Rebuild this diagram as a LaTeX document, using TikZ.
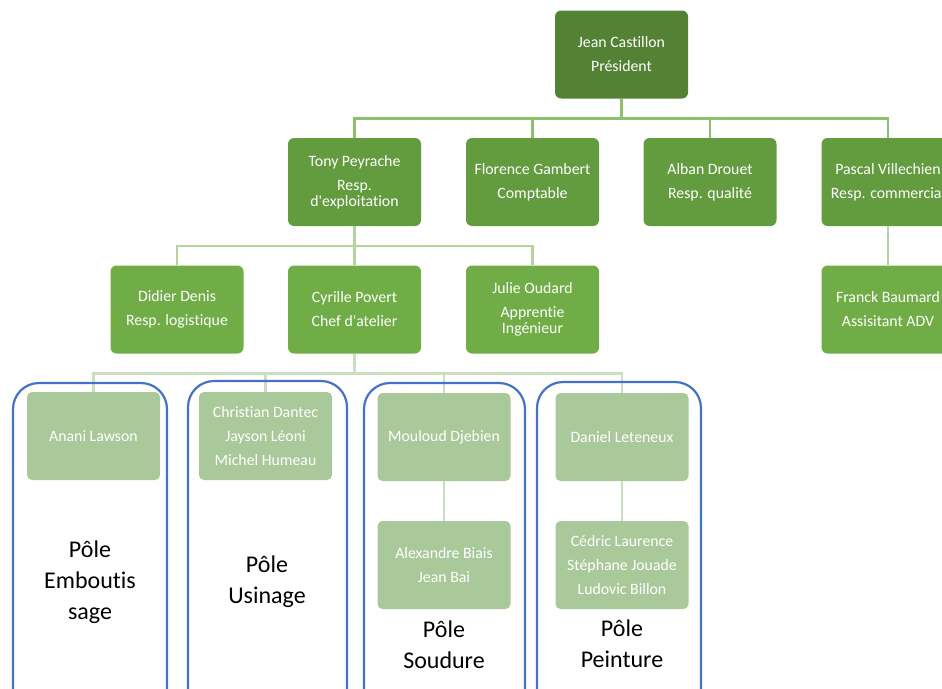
\documentclass[tikz,border=0pt]{standalone}
\usepackage{fontspec}
\setmainfont{Carlito}[Ligatures={NoCommon,TeXOff}]
\definecolor{gTop}{HTML}{548235}
\definecolor{gTwo}{HTML}{629C3F}
\definecolor{gThree}{HTML}{70AD47}
\definecolor{gFour}{HTML}{A9C99A}
\definecolor{cOne}{HTML}{8DC06C}
\definecolor{cTwo}{HTML}{B3D3A0}
\definecolor{cThree}{HTML}{CADFBF}
\definecolor{poleBlue}{HTML}{4472C4}
\tikzset{
  box/.style={rectangle, rounded corners=6pt, minimum width=133pt, minimum height=88pt,
    inner sep=0pt, text=white, align=center, font=\fontsize{15.8}{16}\selectfont},
  lvlA/.style={box, fill=gTop},
  lvlB/.style={box, fill=gTwo},
  lvlC/.style={box, fill=gThree},
  lvlD/.style={box, fill=gFour, rounded corners=5pt},
  linkA/.style={draw=cOne, line width=2.5pt},
  linkB/.style={draw=cTwo, line width=2.5pt},
  linkC/.style={draw=cThree, line width=2.5pt},
  pole/.style={draw=poleBlue, line width=2.2pt, rounded corners=26pt},
  poletext/.style={align=center, text=black, font=\fontsize{24}{31}\selectfont}
}
\begin{document}
\begin{tikzpicture}[x=1pt,y=-1pt]
\useasboundingbox (0,0) rectangle (942,688);
\clip (0,0) rectangle (942,688);

% direction
\node[lvlA] (jean) at (621.5,54.5) {Jean Castillon\\[8pt]Président};

% second level
\node[lvlB] (tony) at (354.5,182) {Tony Peyrache\\[8pt]Resp.\\d'exploitation};
\node[lvlB] (florence) at (532.5,182) {Florence Gambert\\[8pt]Comptable};
\node[lvlB] (alban) at (710,182) {Alban Drouet\\[8pt]Resp. qualité};
\node[lvlB] (pascal) at (888,182) {Pascal Villechien\\[8pt]Resp. commercial};

% third level
\node[lvlC] (didier) at (177,309.5) {Didier Denis\\[8pt]Resp. logistique};
\node[lvlC] (cyrille) at (354.5,309.5) {Cyrille Povert\\[8pt]Chef d'atelier};
\node[lvlC] (julie) at (532.5,309.5) {Julie Oudard\\[8pt]Apprentie\\Ingénieur};
\node[lvlC] (franck) at (888,309.5) {Franck Baumard\\[8pt]Assisitant ADV};

% workshop teams
\node[lvlD] (anani) at (93.5,436) {Anani Lawson};
\node[lvlD] (christian) at (265.5,436) {Christian Dantec\\[8pt]Jayson Léoni\\[8pt]Michel Humeau};
\node[lvlD] (mouloud) at (444,437) {Mouloud Djebien};
\node[lvlD] (alexandre) at (444,565) {Alexandre Biais\\[8pt]Jean Bai};
\node[lvlD] (daniel) at (622,437) {Daniel Leteneux};
\node[lvlD] (cedric) at (622,565) {Cédric Laurence\\[8pt]Stéphane Jouade\\[8pt]Ludovic Billon};

% connectors
\draw[linkA] (jean.south) -- ++(0,20) -| (tony.north);
\draw[linkA] (jean.south) -- ++(0,20) -| (florence.north);
\draw[linkA] (jean.south) -- ++(0,20) -| (alban.north);
\draw[linkA] (jean.south) -- ++(0,20) -| (pascal.north);
\draw[linkB] (pascal.south) -- (franck.north);
\draw[linkB] (tony.south) -- ++(0,20) -| (didier.north);
\draw[linkB] (tony.south) -- ++(0,20) -| (cyrille.north);
\draw[linkB] (tony.south) -- ++(0,20) -| (julie.north);
\draw[linkC] (cyrille.south) -- ++(0,20) -| (anani.north);
\draw[linkC] (cyrille.south) -- ++(0,20) -| (christian.north);
\draw[linkC] (cyrille.south) -- ++(0,20) -| (mouloud.north);
\draw[linkC] (cyrille.south) -- ++(0,20) -| (daniel.north);
\draw[linkC] (mouloud.south) -- (alexandre.north);
\draw[linkC] (daniel.south) -- (cedric.north);

% workshop poles
\draw[pole] (13,383) rectangle (167,730);
\draw[pole] (188,381) rectangle (347,730);
\draw[pole] (364,383) rectangle (525,730);
\draw[pole] (537,382) rectangle (701,730);

\node[poletext] (emb) at (90,582.5) {Pôle\\Emboutis\\sage};
\node[poletext] (usi) at (267,581.5) {Pôle\\Usinage};
\node[poletext] (sou) at (444,644.5) {Pôle\\Soudure};
\node[poletext] (pei) at (622,643.5) {Pôle\\Peinture};
\end{tikzpicture}
\end{document}
